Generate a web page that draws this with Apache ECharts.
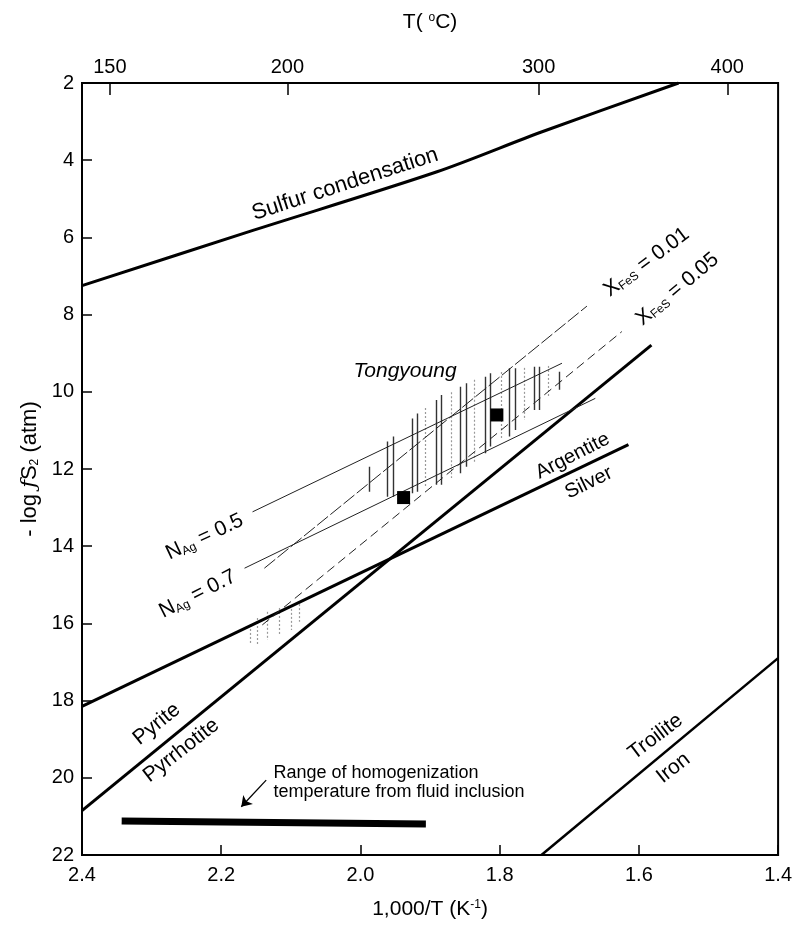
<!DOCTYPE html>
<html><head><meta charset="utf-8">
<script src="https://cdn.jsdelivr.net/npm/echarts@6/dist/echarts.min.js"></script>
<style>html,body{margin:0;padding:0;background:#fff}#c{width:795px;height:929px}</style>
</head><body><div id="c"></div>
<script>
const FONT = "'Liberation Sans', Arial, Helvetica, sans-serif";

// ---- axis ticks ----
const xTickValues = [2.4, 2.2, 2.0, 1.8, 1.6, 1.4];
const yTickValues = [2, 4, 6, 8, 10, 12, 14, 16, 18, 20, 22];
const topTickLabels = ['150', '200', '300', '400'];
const topTickPos = [2.36, 2.105, 1.744, 1.473];

// ---- reaction boundaries (x = 1000/T, y = -log fS2) ----
const sulfurX = [2.4, 2.16, 1.89, 1.74, 1.543];
const sulfurY = [7.25, 5.85, 4.3, 3.27, 2.0];
const pyriteX = [2.4, 1.582];
const pyriteY = [20.85, 8.79];
const argentiteX = [2.4, 1.615];
const argentiteY = [18.15, 11.37];
const troiliteX = [1.74, 1.4];
const troiliteY = [22, 16.9];

// ---- isopleths ----
const nAg05X = [2.155, 1.7105];
const nAg05Y = [13.11, 9.26];
const nAg07X = [2.1665, 1.6626];
const nAg07Y = [14.57, 10.17];
const xFeS001X = [2.138, 1.6746];
const xFeS001Y = [14.57, 7.78];
const xFeS005X = [2.141, 1.6245];
const xFeS005Y = [16.04, 8.44];

// ---- Tongyoung field hatching ----
const hatchX = [1.987, 1.961, 1.953, 1.926, 1.918, 1.891, 1.884, 1.856, 1.848, 1.821, 1.813, 1.786, 1.777, 1.751, 1.743, 1.715];
const hatchTop = [11.94, 11.29, 11.16, 10.69, 10.56, 10.21, 10.08, 9.87, 9.78, 9.61, 9.52, 9.39, 9.39, 9.35, 9.35, 9.48];
const hatchBottom = [12.59, 12.72, 12.72, 12.63, 12.59, 12.41, 12.41, 12.11, 11.94, 11.59, 11.42, 11.16, 10.99, 10.47, 10.47, 9.95];
const grayX = [1.907, 1.870, 1.836, 1.798, 1.764, 1.730, 2.159, 2.148, 2.134, 2.116, 2.099, 2.088];
const grayTop = [10.42, 10.01, 9.69, 9.49, 9.38, 9.33, 16.04, 15.86, 15.70, 15.60, 15.52, 15.50];
const grayBottom = [12.49, 12.23, 11.82, 11.25, 10.73, 10.16, 16.56, 16.56, 16.43, 16.30, 16.17, 15.96];

// ---- samples ----
const sampleX = [1.938, 1.804];
const sampleY = [12.74, 10.60];

// ---- fluid inclusion homogenization range ----
const homogX = [2.343, 1.906];
const homogY = [21.12, 21.2];
const arrowX = [2.1354, 2.1712];
const arrowY = [20.06, 20.75];

const zip = (xs, ys) => xs.map((x, i) => [x, ys[i]]);
const segs = (xs, t, b) => xs.map((x, i) => ({ coords: [[x, t[i]], [x, b[i]]] }));

const RICH = {
  sub: { fontSize: 12, verticalAlign: 'bottom', fontFamily: FONT },
  sup: { fontSize: 12, verticalAlign: 'top', fontFamily: FONT },
  sc: { fontSize: 21, fontFamily: "'DejaVu Serif', serif", fontStyle: 'italic' }
};

function lineSeries(name, xs, ys, width, type) {
  return {
    name, type: 'line', data: zip(xs, ys), symbol: 'none', silent: true,
    lineStyle: { color: '#000', width: width, type: type || 'solid', cap: 'butt' },
    xAxisIndex: 0, yAxisIndex: 0, z: 5
  };
}

const option = {
  animation: false,
  backgroundColor: '#fff',
  grid: { left: 82, right: 15, top: 83, bottom: 74, show: true, borderColor: '#000', borderWidth: 2, backgroundColor: 'transparent' },
  xAxis: [
    {
      type: 'value', position: 'bottom', min: 1.4, max: 2.4, interval: 0.2, inverse: true,
      axisLine: { show: false },
      axisTick: { show: true, inside: true, length: 10, lineStyle: { color: '#000', width: 1.5 } },
      splitLine: { show: false },
      axisLabel: { color: '#000', fontSize: 20, fontFamily: FONT, margin: 10, formatter: v => v.toFixed(1) },
      name: '1,000/T (K{sup|-1})', nameLocation: 'middle', nameGap: 44,
      nameTextStyle: { color: '#000', fontSize: 21, fontFamily: FONT, rich: RICH }
    },
    {
      type: 'value', position: 'top', min: 1.4, max: 2.4, inverse: true,
      axisLine: { show: false },
      axisTick: { show: true, inside: true, length: 12, customValues: topTickPos, lineStyle: { color: '#000', width: 1.5 } },
      splitLine: { show: false },
      axisLabel: {
        color: '#000', fontSize: 20, fontFamily: FONT, margin: 6, customValues: topTickPos,
        formatter: v => {
          let best = 0;
          topTickPos.forEach((p, i) => { if (Math.abs(p - v) < Math.abs(topTickPos[best] - v)) best = i; });
          return topTickLabels[best];
        }
      },
      name: 'T( {sup|o}C)', nameLocation: 'middle', nameGap: 50,
      nameTextStyle: { color: '#000', fontSize: 21, fontFamily: FONT, rich: RICH }
    }
  ],
  yAxis: [
    {
      type: 'value', min: 2, max: 22, interval: 2, inverse: true,
      axisLine: { show: false },
      axisTick: { show: true, inside: true, length: 10, lineStyle: { color: '#000', width: 1.5 } },
      splitLine: { show: false },
      axisLabel: { color: '#000', fontSize: 20, fontFamily: FONT, margin: 8 },
      name: '- log {sc|ƒ}S{sub|2} (atm)', nameLocation: 'middle', nameGap: 38, nameRotate: 90,
      nameTextStyle: { color: '#000', fontSize: 22, fontFamily: FONT, rich: RICH }
    }
  ],
  series: [
    Object.assign(lineSeries('Sulfur condensation', sulfurX, sulfurY, 3), { smooth: 0.3 }),
    lineSeries('Pyrite-Pyrrhotite', pyriteX, pyriteY, 3),
    lineSeries('Argentite-Silver', argentiteX, argentiteY, 3),
    lineSeries('Troilite-Iron', troiliteX, troiliteY, 2.5),
    Object.assign(lineSeries('NAg=0.5', nAg05X, nAg05Y, 1), { lineStyle: { color: '#222', width: 1 } }),
    Object.assign(lineSeries('NAg=0.7', nAg07X, nAg07Y, 1), { lineStyle: { color: '#222', width: 1 } }),
    Object.assign(lineSeries('XFeS=0.01', xFeS001X, xFeS001Y, 1), { lineStyle: { color: '#222', width: 1, type: [14, 3] } }),
    Object.assign(lineSeries('XFeS=0.05', xFeS005X, xFeS005Y, 1), { lineStyle: { color: '#222', width: 1, type: [9, 5] } }),
    lineSeries('Homogenization', homogX, homogY, 7),
    {
      name: 'hatch', type: 'lines', coordinateSystem: 'cartesian2d', xAxisIndex: 0, yAxisIndex: 0,
      data: segs(hatchX, hatchTop, hatchBottom), silent: true,
      lineStyle: { color: '#333', width: 1.4, opacity: 1 }, z: 4
    },
    {
      name: 'hatchGray', type: 'lines', coordinateSystem: 'cartesian2d', xAxisIndex: 0, yAxisIndex: 0,
      data: segs(grayX, grayTop, grayBottom), silent: true,
      lineStyle: { color: '#999', width: 1.2, type: [2, 2], opacity: 1 }, z: 3
    },
    {
      name: 'arrow', type: 'lines', coordinateSystem: 'cartesian2d', xAxisIndex: 0, yAxisIndex: 0,
      data: [{ coords: zip(arrowX, arrowY) }], silent: true,
      symbol: ['none', 'arrow'], symbolSize: 10,
      lineStyle: { color: '#000', width: 1.3, opacity: 1 }, z: 6
    },
    {
      name: 'Samples', type: 'scatter', data: zip(sampleX, sampleY), symbol: 'rect', symbolSize: 13,
      itemStyle: { color: '#000', opacity: 1 }, silent: true, z: 10
    }
  ]
};

const chart = echarts.init(document.getElementById('c'), null, { renderer: 'canvas' });
chart.setOption(option);

// annotations (anchored in data coordinates)
const annotations = [
  { text: 'Sulfur condensation', x: 2.022, y: 4.62, rot: 18, size: 22 },
  { text: 'Tongyoung', x: 1.936, y: 9.46, rot: 0, size: 21, italic: true },
  { text: 'Argentite', x: 1.695, y: 11.66, rot: 27, size: 20 },
  { text: 'Silver', x: 1.672, y: 12.36, rot: 26, size: 20 },
  { text: 'Pyrite', x: 2.2926, y: 18.61, rot: 39, size: 21 },
  { text: 'Pyrrhotite', x: 2.2574, y: 19.29, rot: 38, size: 21 },
  { text: 'Troilite', x: 1.576, y: 18.94, rot: 37, size: 21 },
  { text: 'Iron', x: 1.5504, y: 19.75, rot: 38, size: 21 },
  { text: 'N{sub|Ag} = 0.5', x: 2.2238, y: 13.76, rot: 25, size: 21 },
  { text: 'N{sub|Ag} = 0.7', x: 2.2338, y: 15.24, rot: 27, size: 21 },
  { text: 'X{sub|FeS} = 0.01', x: 1.589, y: 6.64, rot: 37, size: 21 },
  { text: 'X{sub|FeS} = 0.05', x: 1.5447, y: 7.34, rot: 40, size: 21 }
];
const toPx = (x, y) => chart.convertToPixel({ xAxisIndex: 0, yAxisIndex: 0 }, [x, y]);
const graphics = annotations.map(a => {
  const p = toPx(a.x, a.y);
  return {
    type: 'text', x: p[0], y: p[1], rotation: a.rot * Math.PI / 180, z: 100, silent: true,
    style: {
      text: a.text, rich: RICH, fontSize: a.size, fontFamily: FONT, fontStyle: a.italic ? 'italic' : 'normal',
      fill: '#000', align: 'center', verticalAlign: 'middle', textAlign: 'center', textVerticalAlign: 'middle'
    }
  };
});
const hp = toPx(2.125, 20.12);
graphics.push({
  type: 'text', x: hp[0], y: hp[1], z: 100, silent: true,
  style: {
    text: 'Range of homogenization\ntemperature from fluid inclusion', fontSize: 18, fontFamily: FONT,
    lineHeight: 19, fill: '#000', align: 'left', verticalAlign: 'middle', textAlign: 'left', textVerticalAlign: 'middle'
  }
});
chart.setOption({ graphic: graphics });
</script>
</body></html>
